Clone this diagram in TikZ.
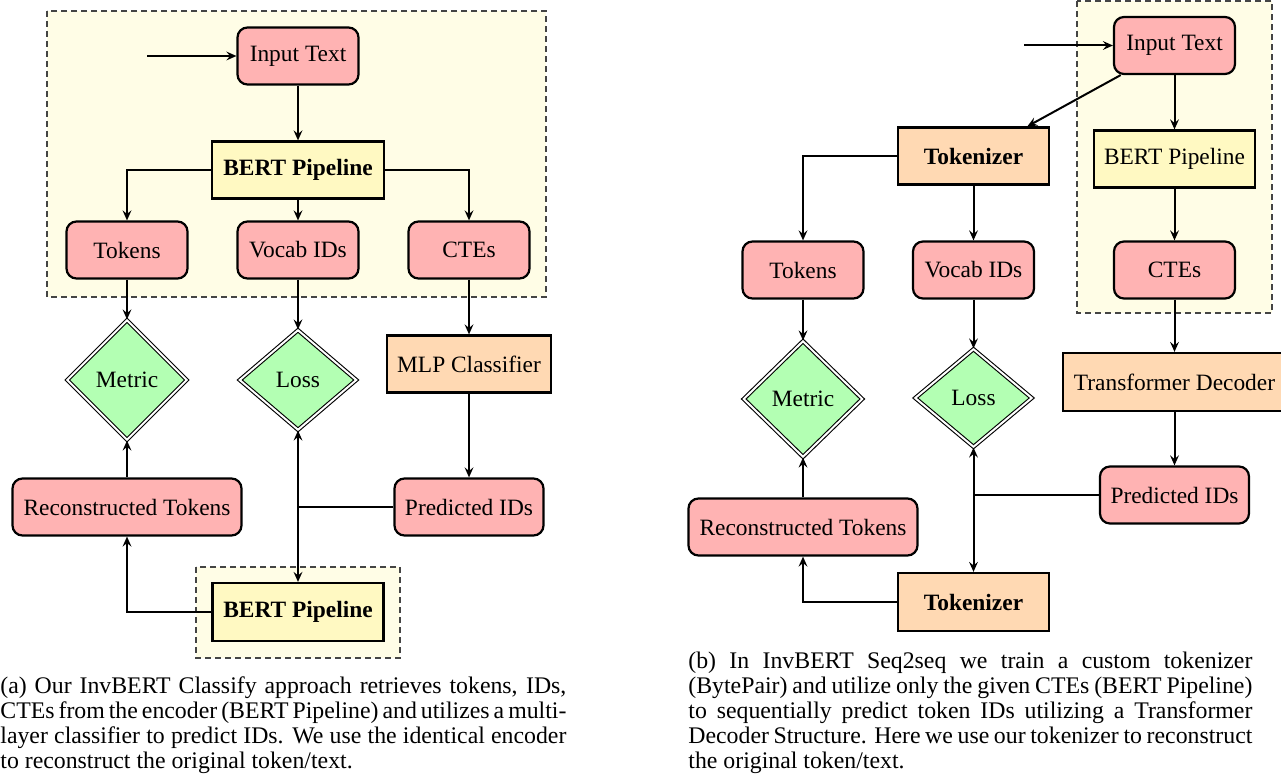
\documentclass[tikz,border=0pt]{standalone}
\usepackage{fontspec}
\setmainfont{Liberation Serif}
\usetikzlibrary{shapes.geometric,arrows.meta}
\definecolor{pinkfill}{HTML}{FFB3B3}
\definecolor{yelfill}{HTML}{FFF9C2}
\definecolor{orafill}{HTML}{FFD9B3}
\definecolor{grnfill}{HTML}{B3FFB3}
\definecolor{bgfill}{HTML}{FFFDE6}
\definecolor{dashcol}{HTML}{444444}
\tikzset{
  nodebase/.style={draw=black, line width=1.1pt, inner sep=0pt, align=center,
    font=\fontsize{11.7}{14}\selectfont},
  rbox/.style={nodebase, rectangle, rounded corners=5pt, fill=pinkfill,
    minimum width=60.5pt, minimum height=28.5pt},
  ybox/.style={nodebase, rectangle, fill=yelfill, minimum height=28.5pt},
  obox/.style={nodebase, rectangle, fill=orafill, minimum height=28.5pt},
  dmd/.style={diamond, draw=black, double, double distance=1pt, line width=0.55pt,
    fill=grnfill, inner sep=0pt, font=\fontsize{11.7}{14}\selectfont},
  grpbox/.style={draw=dashcol, fill=bgfill, line width=0.6pt, dash pattern=on 3pt off 2pt},
  arr/.style={-{Stealth[length=5pt,width=4.4pt,inset=1.8pt]}, line width=1pt},
  conn/.style={line width=1pt},
  captext/.style={anchor=base west, inner sep=0pt, font=\fontsize{11.9}{12.5}\selectfont}
}
\begin{document}
\begin{tikzpicture}[x=0.5pt, y=-0.5pt]
\useasboundingbox (0,0) rectangle (1281,775);

% ---------- (a) ----------
\draw[grpbox] (47,11) rectangle (546,297);
\draw[grpbox] (196,567) rectangle (400,658);

\node[rbox] (inA) at (298,56) {Input Text};
\coordinate (sA) at (147,56);
\node[ybox, minimum width=86pt, font=\fontsize{11.7}{14}\selectfont\bfseries] (bertA) at (298,170) {BERT Pipeline};
\node[rbox] (tokA) at (127,250) {Tokens};
\node[rbox] (vocA) at (298,250) {Vocab IDs};
\node[rbox] (cteA) at (469,250) {CTEs};
\node[dmd, minimum width=60pt, minimum height=60pt] (metA) at (127,380) {Metric};
\node[dmd, minimum width=58.5pt, minimum height=50pt] (lossA) at (298,380) {Loss};
\node[obox, minimum width=82pt] (mlpA) at (469,364) {MLP Classifier};
\node[rbox, minimum width=114.5pt] (recA) at (127,507) {Reconstructed Tokens};
\node[rbox, minimum width=74.5pt] (predA) at (469,507) {Predicted IDs};
\node[ybox, minimum width=85.5pt, minimum height=29pt, font=\fontsize{11.7}{14}\selectfont\bfseries] (bertA2) at (298,612) {BERT Pipeline};
\coordinate (jA) at (298,507);

\draw[arr] (sA) -- (inA);
\draw[arr] (inA) -- (bertA);
\draw[arr] (bertA.west) -| (tokA.north);
\draw[arr] (bertA) -- (vocA);
\draw[arr] (bertA.east) -| (cteA.north);
\draw[arr] (tokA) -- (metA);
\draw[arr] (vocA) -- (lossA);
\draw[arr] (cteA) -- (mlpA);
\draw[arr] (mlpA) -- (predA);
\draw[arr] (recA) -- (metA);
\draw[arr] (bertA2.west) -| (recA.south);
\draw[conn] (predA.west) -- (jA);
\draw[arr] (jA) -- (lossA.south);
\draw[arr] (jA) -- (bertA2.north);

% ---------- (b) ----------
\draw[grpbox] (1077,1) rectangle (1272,313);

\node[rbox] (inB) at (1174.5,45.5) {Input Text};
\coordinate (sB) at (1024,45.5);
\node[obox, minimum width=75.5pt, font=\fontsize{11.7}{14}\selectfont\bfseries] (tokzB) at (973.5,156) {Tokenizer};
\node[ybox, minimum width=80.5pt] (bertB) at (1174.5,159) {BERT Pipeline};
\node[rbox] (tokB) at (803,270) {Tokens};
\node[rbox] (vocB) at (973.5,270) {Vocab IDs};
\node[rbox] (cteB) at (1174.5,270) {CTEs};
\node[dmd, minimum width=59.5pt, minimum height=58pt] (metB) at (803,399) {Metric};
\node[dmd, minimum width=58.5pt, minimum height=49pt] (lossB) at (973.5,398) {Loss};
\node[obox, minimum width=111.5pt, minimum height=29pt] (tdB) at (1174.5,382) {Transformer Decoder};
\node[rbox, minimum width=74.5pt] (predB) at (1174.5,495) {Predicted IDs};
\node[rbox, minimum width=114.5pt] (recB) at (803,527) {Reconstructed Tokens};
\node[obox, minimum width=75.5pt, minimum height=29pt, font=\fontsize{11.7}{14}\selectfont\bfseries] (tokzB2) at (973.5,602) {Tokenizer};
\coordinate (jB) at (973.5,495);

\draw[arr] (sB) -- (inB);
\draw[arr] (inB) -- (tokzB);
\draw[arr] (inB) -- (bertB);
\draw[arr] (tokzB.west) -| (tokB.north);
\draw[arr] (tokzB) -- (vocB);
\draw[arr] (bertB) -- (cteB);
\draw[arr] (tokB) -- (metB);
\draw[arr] (vocB) -- (lossB);
\draw[arr] (cteB) -- (tdB);
\draw[arr] (tdB) -- (predB);
\draw[arr] (recB) -- (metB);
\draw[arr] (tokzB2.west) -| (recB.south);
\draw[conn] (predB.west) -- (jB);
\draw[arr] (jB) -- (lossB.south);
\draw[arr] (jB) -- (tokzB2.north);

% ---------- captions ----------
\node[captext] (capA1) at (0,693) {\makebox[283pt][s]{(a) Our InvBERT Classify approach retrieves tokens, IDs,}};
\node[captext] (capA2) at (0,718) {\makebox[283pt][s]{CTEs from the encoder (BERT Pipeline) and utilizes a multi-}};
\node[captext] (capA3) at (0,743) {\makebox[283pt][s]{layer classifier to predict IDs. We use the identical encoder}};
\node[captext] (capA4) at (0,768) {to reconstruct the original token/text.};

\node[captext] (capB1) at (688,668) {\makebox[282pt][s]{(b) In InvBERT Seq2seq we train a custom tokenizer}};
\node[captext] (capB2) at (688,693) {\makebox[282pt][s]{(BytePair) and utilize only the given CTEs (BERT Pipeline)}};
\node[captext] (capB3) at (688,718) {\makebox[282pt][s]{to sequentially predict token IDs utilizing a Transformer}};
\node[captext] (capB4) at (688,743) {\makebox[282pt][s]{Decoder Structure. Here we use our tokenizer to reconstruct}};
\node[captext] (capB5) at (688,768) {the original token/text.};
\end{tikzpicture}
\end{document}
